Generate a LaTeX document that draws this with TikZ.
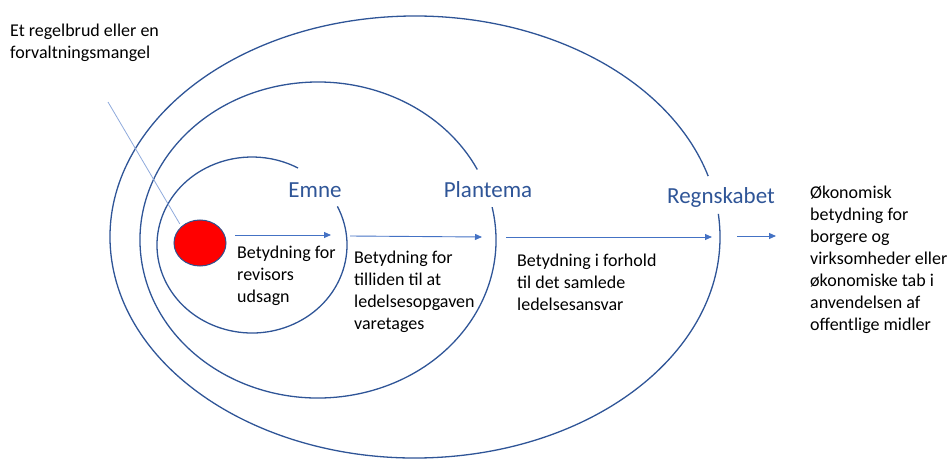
\documentclass[tikz,border=0pt]{standalone}
\usepackage{fontspec}
\setmainfont{Carlito}
\usetikzlibrary{arrows.meta,shapes.geometric}
\definecolor{ringblue}{RGB}{47,85,151}
\definecolor{flowblue}{RGB}{68,114,196}
\definecolor{leadblue}{RGB}{143,170,220}
\definecolor{faultred}{RGB}{255,0,0}
\definecolor{faultedge}{RGB}{47,82,143}

\begin{document}
\begin{tikzpicture}[x=1pt,y=-1pt,
    >={Triangle[length=7pt,width=6pt]},
    ring/.style={draw=ringblue,line width=1.3pt},
    flow/.style={->,draw=flowblue,line width=0.9pt},
    lead/.style={draw=leadblue,line width=0.8pt},
    level/.style={text=ringblue,font=\fontsize{23}{27}\selectfont,anchor=base,inner sep=0pt},
    note/.style={align=left,anchor=north west,inner sep=0pt,font=\fontsize{18}{22}\selectfont}]
  \useasboundingbox (0,0) rectangle (948,460);

  % the three rings, open where the labels sit
  \coordinate (cE) at (252,245); \coordinate (cP) at (318,240); \coordinate (cR) at (415,237);
  \draw[ring] (cE) ++(-26:95 and 88) arc[start angle=-26,end angle=299,x radius=95,y radius=88];
  \draw[ring] (cP) ++(-12:178 and 158) arc[start angle=-12,end angle=333.5,x radius=178,y radius=158];
  \draw[ring] (cR) ++(-6:305 and 221) arc[start angle=-6,end angle=344,x radius=305,y radius=221];

  \node[level] (emne) at (315,197) {Emne};
  \node[level] (plantema) at (488,197) {Plantema};
  \node[level] (regnskab) at (721,203) {Regnskabet};

  \node[ellipse,draw=faultedge,fill=faultred,line width=1pt,inner sep=0pt,minimum width=52pt,minimum height=46pt] (fault) at (200,243) {};
  \node[note] (origin) at (10,24) {Et regelbrud eller en\\forvaltningsmangel};
  \draw[lead,shorten >=3pt] (108,102) coordinate (leadtop) -- (fault.north west);

  % arrows out through each ring
  \coordinate (emne-s) at (235,235); \coordinate (emne-e) at (331,235);
  \coordinate (plan-s) at (350,236); \coordinate (plan-e) at (482,237);
  \coordinate (regn-s) at (506,237); \coordinate (regn-e) at (712,237);
  \coordinate (out-s) at (737,236); \coordinate (out-e) at (776,236);
  \draw[flow] (emne-s) -- (emne-e); \draw[flow] (plan-s) -- (plan-e);
  \draw[flow] (regn-s) -- (regn-e); \draw[flow] (out-s) -- (out-e);

  \node[note] (revisor) at (237,245.4) {Betydning for\\revisors\\udsagn};
  \node[note] (tillid) at (354,250.4) {Betydning for\\tilliden til at\\ledelsesopgaven\\varetages};
  \node[note] (ansvar) at (517,253.4) {Betydning i forhold\\til det samlede\\ledelsesansvar};
  \node[note] (effekt) at (810,185.4) {Økonomisk\\betydning for\\borgere og\\virksomheder eller\\økonomiske tab i\\anvendelsen af\\offentlige midler};
\end{tikzpicture}
\end{document}
